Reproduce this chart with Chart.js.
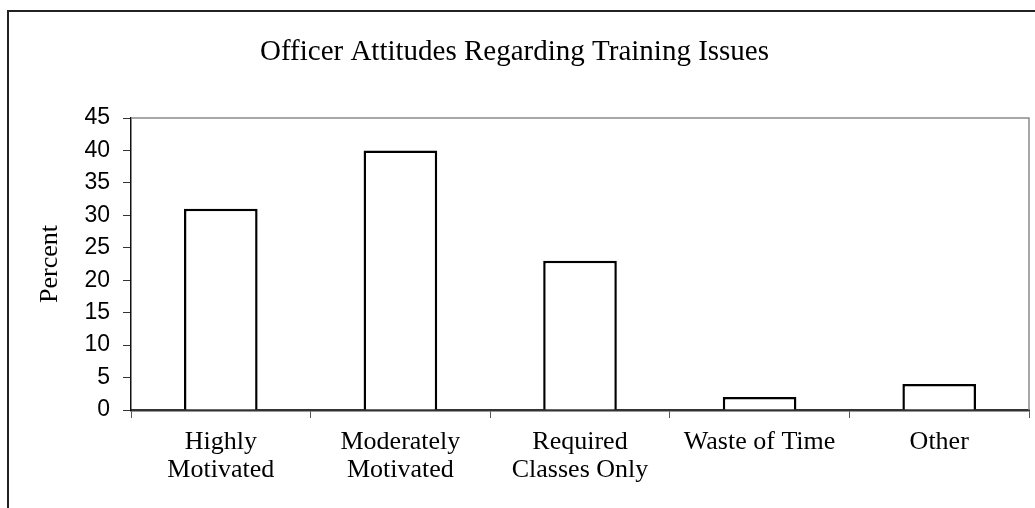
<!DOCTYPE html>
<html>
<head>
<meta charset="utf-8">
<script src="https://cdn.jsdelivr.net/npm/chart.js@4.4.0/dist/chart.umd.min.js"></script>
<style>
  html, body { margin: 0; padding: 0; background: #fff; overflow: hidden; }
  #wrap { position: relative; width: 1035px; height: 508px; }
  #frame { position: absolute; left: 7px; top: 10px; width: 1100px; height: 600px; border: 2px solid #222; box-sizing: border-box; }
  #chart { position: absolute; left: 0; top: 0; }
</style>
</head>
<body>
<div id="wrap">
  <div id="frame"></div>
  <canvas id="chart" width="1035" height="508"></canvas>
</div>
<script>
var categories = [["Highly", "Motivated"], ["Moderately", "Motivated"], ["Required", "Classes Only"], "Waste of Time", "Other"];
var percents = [31, 40, 23, 2, 4];
var yTicks = [0, 5, 10, 15, 20, 25, 30, 35, 40, 45];

// gray top and right edges of the plot box
var plotBox = {
    id: 'plotBox',
    beforeDatasetsDraw: function(chart){
        var a = chart.chartArea;
        var ctx = chart.ctx;
        ctx.save();
        ctx.strokeStyle = '#8a8a8a';
        ctx.lineWidth = 1.5;
        ctx.beginPath();
        ctx.moveTo(a.left, a.top);
        ctx.lineTo(a.right, a.top);
        ctx.lineTo(a.right, a.bottom);
        ctx.stroke();
        ctx.restore();
    }
};

new Chart(document.getElementById("chart"), {
    type: 'bar',
    data: {
        labels: categories,
        datasets: [{
            data: percents,
            backgroundColor: '#ffffff',
            borderColor: '#000000',
            borderWidth: 2.5,
            categoryPercentage: 1,
            barPercentage: 0.41
        }]
    },
    options: {
        responsive: false,
        animation: false,
        layout: { padding: { left: 0, right: 6, top: 0, bottom: 0 } },
        plugins: {
            legend: { display: false },
            tooltip: { enabled: false },
            title: {
                display: true,
                text: 'Officer Attitudes Regarding Training Issues',
                color: '#000',
                font: { family: 'Liberation Serif', size: 29, weight: 'normal', lineHeight: 1.2 },
                padding: { top: 35, bottom: 48.2 }
            }
        },
        scales: {
            x: {
                grid: { display: true, drawOnChartArea: false, drawTicks: true, tickLength: 8, color: '#555', offset: true },
                border: { display: true, color: '#333', width: 2.5 },
                ticks: {
                    color: '#000',
                    padding: 10,
                    maxRotation: 0,
                    font: { family: 'Liberation Serif', size: 26, lineHeight: 1.08 }
                },
                afterFit: function(scale){ scale.height = 98; }
            },
            y: {
                min: 0,
                max: 45,
                afterBuildTicks: function(scale){
                    scale.ticks = yTicks.map(function(v){ return { value: v }; });
                },
                grid: { display: true, drawOnChartArea: false, drawTicks: true, tickLength: 8, color: '#333' },
                border: { display: true, color: '#111', width: 1.5 },
                ticks: {
                    color: '#000',
                    padding: 13,
                    font: { family: 'Liberation Sans', size: 23 }
                },
                title: {
                    display: true,
                    text: 'Percent',
                    color: '#000',
                    font: { family: 'Liberation Serif', size: 26, lineHeight: 1.2 },
                    padding: { top: 34.4, bottom: 0 }
                },
                afterFit: function(scale){ scale.width = 131; }
            }
        }
    },
    plugins: [plotBox]
});
</script>
</body>
</html>
